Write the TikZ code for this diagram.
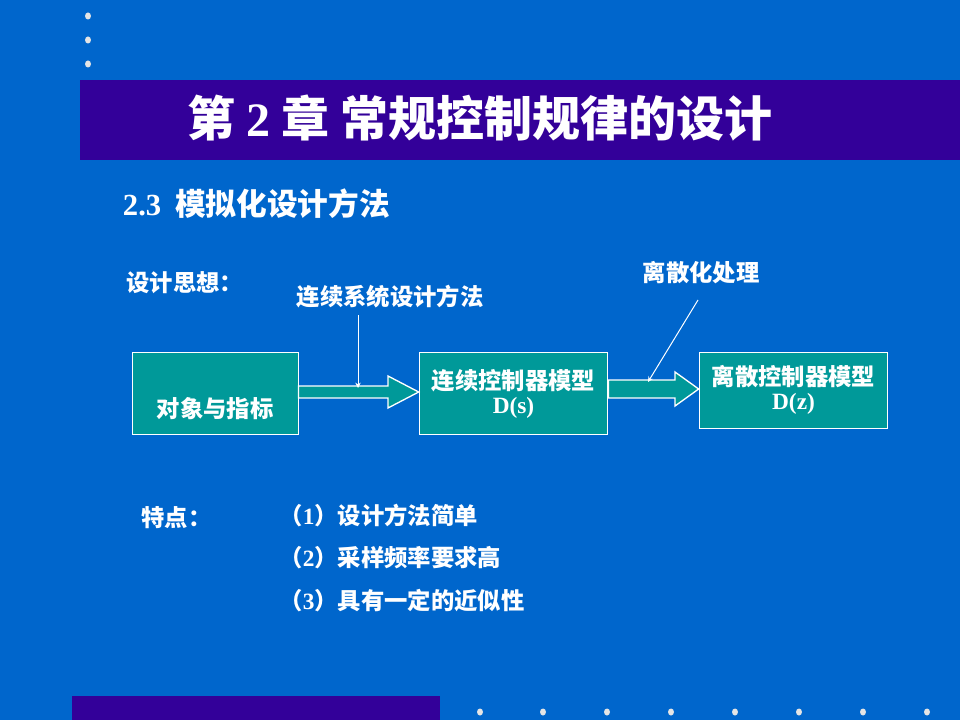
\documentclass[tikz,border=0pt]{standalone}
\usepackage{fontspec}
\setmainfont{Liberation Serif}
\newfontfamily\cjk{Noto Sans CJK SC}
\usetikzlibrary{arrows.meta}
\definecolor{slidebg}{RGB}{0,102,204}
\definecolor{barcol}{RGB}{51,0,153}
\definecolor{boxcol}{RGB}{0,153,153}
\tikzset{every picture/.style={line width=0.75pt},
  blockbox/.style={draw=white, fill=boxcol, text=white, font=\cjk\bfseries\fontsize{17.5}{21}\selectfont, align=center},
  label/.style={text=white, font=\cjk\bfseries\fontsize{17.5}{21}\selectfont, inner sep=0.75pt},
  hollow/.style={draw=white, fill=boxcol, line width=1pt},
  dot/.style={fill=white!80!gray, draw=none}}
\begin{document}
\begin{tikzpicture}[x=0.75pt,y=0.75pt,yscale=-1,xscale=1]
%background and bars
\fill[slidebg] (0,0) rectangle (960,720);
\useasboundingbox (0,0) rectangle (960,720);
\fill[barcol] (80,80) rectangle (960,160);
\fill[barcol] (72,696) rectangle (440,720);
\foreach \y in {16,40,64} \fill[dot] (88,\y) ellipse (3 and 3.5);
\foreach \x in {480,543,607,671,735,799,863,927} \fill[dot] (\x,712) ellipse (3 and 3.5);

% Title
\node[text=white, font=\cjk\bfseries\fontsize{36}{42}\selectfont] (title) at (480,118) {第 {\rmfamily 2} 章 常规控制规律的设计};
\node[anchor=west, text=white, font=\cjk\bfseries\fontsize{23}{28}\selectfont] (sub) at (118,204) {{\rmfamily 2.3}\ \ 模拟化设计方法};

% Blocks
\node[blockbox, minimum width=124.5pt, minimum height=62pt] (obj) at (215,393.5) {};
\node[label] (objtxt) at (215,409) {对象与指标};
\node[blockbox, minimum width=141.5pt, minimum height=62pt] (cont) at (513.5,393.5) {连续控制器模型\\[-3pt]{\rmfamily D(s)}};
\node[blockbox, minimum width=141.5pt, minimum height=57pt] (disc) at (793.5,390) {离散控制器模型\\[-3pt]{\rmfamily D(z)}};

% Hollow arrows
\draw[hollow] (obj.east |- 0,386) -- (388,386) -- (388,376) -- (cont.west |- 0,392) -- (388,408) -- (388,398) -- (obj.east |- 0,398) -- cycle;
\draw[hollow] (cont.east |- 0,380) -- (675,380) -- (675,372) -- (disc.west |- 0,389) -- (675,406) -- (675,398) -- (cont.east |- 0,398) -- cycle;

% Labels and pointers
\node[label, anchor=west] (idea) at (125,283) {设计思想：};
\node[label] (method) at (390,297) {连续系统设计方法};
\node[label] (discr) at (701,273) {离散化处理};
\coordinate (p1) at (358,388);
\coordinate (p2) at (648,382);
\draw[white, -{Stealth[length=4pt,width=4pt]}] (358,315) -- (p1);
\draw[white, -{Stealth[length=4pt,width=4pt]}] (698,300) -- (p2);

% Features
\node[label, anchor=west] (feat) at (140,518) {特点：};
\node[label, anchor=west] (f1) at (278,516) {（{\rmfamily 1}）设计方法简单};
\node[label, anchor=west] (f2) at (278,558) {（{\rmfamily 2}）采样频率要求高};
\node[label, anchor=west] (f3) at (278,601) {（{\rmfamily 3}）具有一定的近似性};
\end{tikzpicture}
\end{document}
